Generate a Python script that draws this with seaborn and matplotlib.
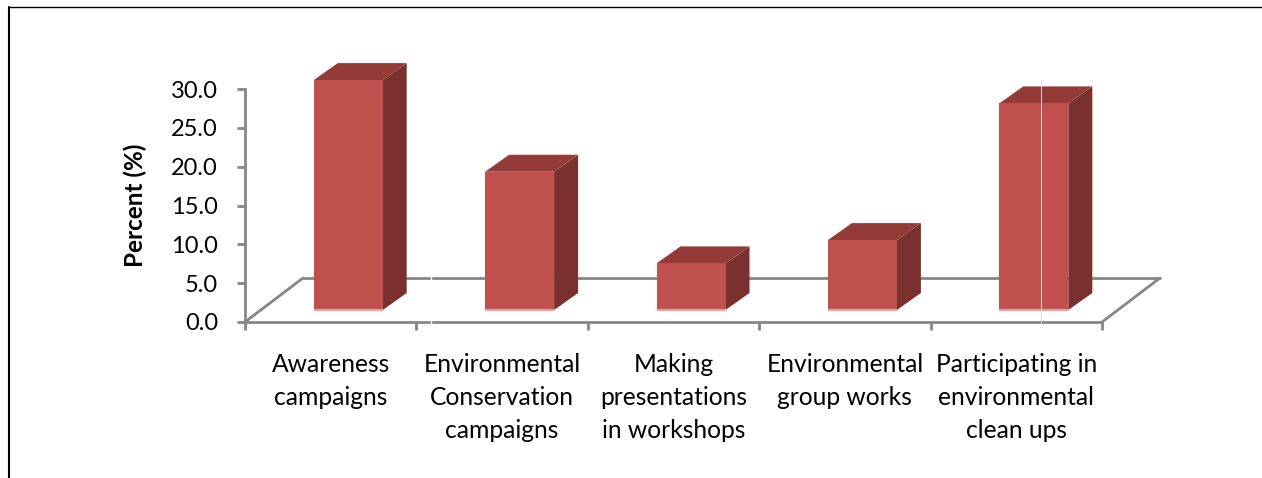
import matplotlib
matplotlib.use('Agg')
import matplotlib.pyplot as plt
import matplotlib.transforms as mtrans
from matplotlib.lines import Line2D
import seaborn as sns

categories = ['Awareness\ncampaigns', 'Environmental\nConservation\ncampaigns',
              'Making\npresentations\nin workshops', 'Environmental\ngroup works',
              'Participating in\nenvironmental\nclean ups']
percent = [29.6, 17.8, 6.0, 9.0, 26.6]
y_ticks = [0, 5, 10, 15, 20, 25, 30]

GRAY = '#868686'
FRONT = '#C0504D'
TOP = '#943B39'
SIDE = '#7A302E'
W, H = 1262, 478

sns.set_style('white')
plt.rcParams['font.family'] = ['Lato', 'DejaVu Sans']

fig = plt.figure(figsize=(W / 100, H / 100), dpi=100)
ax = fig.add_axes([245 / W, 1 - 322 / H, 857 / W, 233 / H])

bar_w = 69 / 171.4
sns.barplot(x=list(range(5)), y=percent, color=FRONT, saturation=1, width=bar_w, ax=ax,
            zorder=3, edgecolor='none', linewidth=0)
ax.set_xlim(-0.5, 4.5)
ax.set_ylim(0, 30)


def shift(dx, dy):
    # pixel offset on top of data coords, fakes the excel 3d look
    return ax.transData + mtrans.Affine2D().translate(dx, dy)


# floor
floor = shift(58, 44)
ax.plot([-0.5, 4.5], [0, 0], color=GRAY, lw=2.0, transform=floor, clip_on=False, zorder=1)
for xx in [-0.5, 4.5]:
    x0, y0 = ax.transData.transform((xx, 0))
    ax.add_line(Line2D([x0, x0 + 58], [y0, y0 + 44], color=GRAY, lw=2.0,
                       transform=None, clip_on=False, zorder=1))

# bars: front shifted back from the axis, then the side and top faces
base = shift(17.5, 12)
for p, val in zip(ax.patches, percent):
    p.set_transform(base)
    p.set_clip_on(False)
    left = p.get_x()
    right = left + p.get_width()
    (x0, y0), (x1, y1) = base.transform([(left, 0), (right, val)])
    ax.fill([x1, x1 + 24, x1 + 24, x1], [y0, y0 + 17, y1 + 17, y1], color=SIDE, lw=0,
            transform=None, clip_on=False, zorder=2)
    ax.fill([x0, x1, x1 + 24, x0 + 24], [y1, y1, y1 + 17, y1 + 17], color=TOP, lw=0,
            transform=None, clip_on=False, zorder=2)
    ax.plot([x0, x1], [y0, y0], color='#E8A09E', lw=1.6, transform=None, clip_on=False,
            zorder=4, solid_capstyle='butt')

sns.despine(ax=ax)
for s in ['left', 'bottom']:
    ax.spines[s].set_color(GRAY)
    ax.spines[s].set_linewidth(2.0)
    ax.spines[s].set_zorder(1)

ax.set_xticks([-0.5, 0.5, 1.5, 2.5, 3.5, 4.5], labels=[])
ax.set_xticks(range(5), labels=categories, minor=True)
ax.set_yticks(y_ticks, labels=[f'{v:.1f}' for v in y_ticks])
ax.tick_params(axis='x', which='major', bottom=True, length=6, width=2.0, color=GRAY)
ax.tick_params(axis='x', which='minor', bottom=False, length=0, pad=22.5, labelsize=17.7)
ax.tick_params(axis='y', left=True, length=6, width=2.0, color=GRAY, pad=13.5, labelsize=17)
for lab in ax.get_xticklabels(minor=True):
    lab.set_linespacing(1.52)
    lab.set_color('black')
for lab in ax.get_yticklabels():
    lab.set_color('black')
ax.set_ylabel('Percent (%)', fontsize=17.5, fontweight='bold', color='black', labelpad=17)

# scan artefacts: white break in the floor lines, pale line through the last bar
fig.add_artist(Line2D([431 / W] * 2, [1 - 326 / H, 1 - 274 / H], color='white', lw=1.0))
fig.add_artist(Line2D([1041 / W] * 2, [1 - 323 / H, 1 - 85 / H], color='#EFD3D2', lw=0.7))

# outer frame
fig.add_artist(Line2D([9 / W, 9 / W], [0, 1 - 7 / H], color='black', lw=1.5))
fig.add_artist(Line2D([9 / W, 1], [1 - 7 / H, 1 - 7 / H], color='black', lw=1.0))

fig.savefig('out.png', dpi=100)
